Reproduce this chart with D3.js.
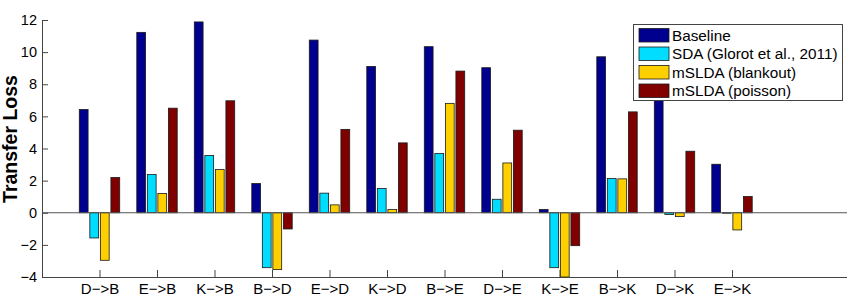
<!DOCTYPE html>
<html>
<head>
<meta charset="utf-8">
<script src="https://cdn.jsdelivr.net/npm/d3@7"></script>
<style>
body { margin: 0; background: #fff; }
text { font-family: "Liberation Sans", Arial, sans-serif; }
</style>
</head>
<body>
<div id="chart"></div>
<script>
var categories = ["D−>B", "E−>B", "K−>B", "B−>D", "E−>D", "K−>D", "B−>E", "D−>E", "K−>E", "B−>K", "D−>K", "E−>K"];
var series = ["Baseline", "SDA (Glorot et al., 2011)", "mSLDA (blankout)", "mSLDA (poisson)"];
var baseline = [6.43, 11.23, 11.88, 1.82, 10.75, 9.11, 10.34, 9.03, 0.2, 9.71, 7.5, 3.02];
var sda      = [-1.57, 2.38, 3.56, -3.42, 1.22, 1.51, 3.69, 0.84, -3.42, 2.13, -0.11, -0.03];
var blankout = [-2.96, 1.2, 2.69, -3.54, 0.49, 0.2, 6.81, 3.1, -4.0, 2.11, -0.24, -1.07];
var poisson  = [2.19, 6.51, 6.97, -1.01, 5.19, 4.35, 8.82, 5.14, -2.05, 6.28, 3.83, 1.01];
var yTicks = [-4, -2, 0, 2, 4, 6, 8, 10, 12];
var colors = ["#00008f", "#00ddff", "#ffd000", "#800000"];

var values = [baseline, sda, blankout, poisson];

var width = 850, height = 298;
var svg = d3.select("#chart").append("svg")
	.attr("width", width)
	.attr("height", height);

var x = d3.scaleLinear().domain([0, 14]).range([42, 847]);
var y = d3.scaleLinear().domain([-4, 12]).range([277, 20]);

// offset of each series inside a group, in x units
var off = d3.scaleLinear().domain([0, series.length - 1]).range([-0.275, 0.275]);
var bw = 0.153;

var data = [];
values.forEach(function(vals, s) {
	vals.forEach(function(v, i) {
		data.push({s: s, i: i, v: v});
	});
});

svg.append("clipPath").attr("id", "plotclip")
	.append("rect").attr("x", 42).attr("y", 19).attr("width", 806).attr("height", 258.5);

svg.append("g").attr("clip-path", "url(#plotclip)")
	.selectAll("rect")
	.data(data)
	.enter()
	.append("rect")
	  .attr("x", function(d) { return x(d.i + 1 + off(d.s) - bw / 2); })
	  .attr("width", function(d) { return x(bw) - x(0); })
	  .attr("y", function(d) { return y(Math.max(0, d.v)); })
	  .attr("height", function(d) { return Math.abs(y(d.v) - y(0)); })
	  .attr("fill", function(d) { return colors[d.s]; })
	  .attr("stroke", "#1a1a1a")
	  .attr("stroke-width", 0.8);

// zero baseline
svg.append("line")
	.attr("x1", x(0)).attr("x2", x(14))
	.attr("y1", y(0)).attr("y2", y(0))
	.attr("stroke", "#555").attr("stroke-width", 1.2);

/**  axes  **/
var yAxis = d3.axisRight(y).tickValues(yTicks).tickSize(6).tickFormat(d3.format("d"));
var gy = svg.append("g").attr("transform", "translate(" + x(0) + ",0)").call(yAxis);
gy.select(".domain").attr("stroke", "#444").attr("d", "M0.5," + y(12) + "V" + y(-4));
gy.selectAll(".tick line").attr("stroke", "#444");
gy.selectAll(".tick text")
	.attr("x", -5)
	.attr("text-anchor", "end")
	.attr("fill", "#000")
	.style("font-size", "14.5px");

var xAxis = d3.axisTop(x).tickValues(d3.range(1, 13)).tickSize(7)
	.tickFormat(function(d) { return categories[d - 1]; });
var gx = svg.append("g").attr("transform", "translate(0," + y(-4) + ")").call(xAxis);
gx.select(".domain").attr("stroke", "#444").attr("d", "M" + x(0) + ",0.5H" + x(14));
gx.selectAll(".tick line").attr("stroke", "#444");
gx.selectAll(".tick text")
	.attr("y", 17)
	.attr("dy", 0)
	.attr("fill", "#000")
	.style("font-size", "15px");

svg.append("text")
	.attr("transform", "translate(17,139) rotate(-90)")
	.attr("text-anchor", "middle")
	.style("font-size", "19.5px")
	.style("font-weight", "bold")
	.text("Transfer Loss");

/**  legend  **/
var lg = svg.append("g").attr("transform", "translate(633,24)");
lg.append("rect")
	.attr("x", 0.5).attr("y", 0.5)
	.attr("width", 209).attr("height", 76)
	.attr("fill", "#fff")
	.attr("stroke", "#444");

var rows = lg.selectAll(".row")
	.data(series)
	.enter()
	.append("g")
	  .attr("class", "row")
	  .attr("transform", function(d, i) { return "translate(0," + (4.5 + i * 18.5) + ")"; });

rows.append("rect")
	.attr("x", 6).attr("y", 0)
	.attr("width", 30).attr("height", 13.5)
	.attr("fill", function(d, i) { return colors[i]; })
	.attr("stroke", "#1a1a1a")
	.attr("stroke-width", 0.8);

rows.append("text")
	.attr("x", 39).attr("y", 12)
	.style("font-size", "15.3px")
	.text(function(d) { return d; });
</script>
</body>
</html>
